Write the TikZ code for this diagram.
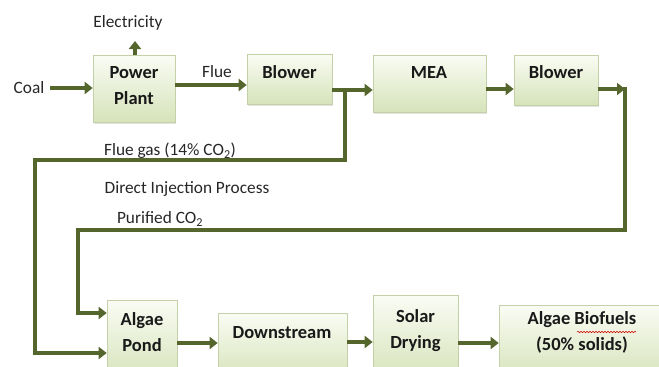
\documentclass[tikz,border=0pt]{standalone}
\usepackage{fontspec}
\setmainfont{Carlito}
\usetikzlibrary{arrows.meta,shadows,decorations.pathmorphing}
\definecolor{arrowc}{RGB}{84,102,44}
\definecolor{boxline}{RGB}{196,208,168}
\definecolor{boxtop}{RGB}{250,252,244}
\definecolor{boxbot}{RGB}{214,227,186}
\tikzset{
  box/.style={draw=boxline, line width=0.6pt, rectangle, top color=boxtop, bottom color=boxbot,
    drop shadow={shadow xshift=1.2pt, shadow yshift=-1.5pt, opacity=0.22}},
  boxtxt/.style={font=\fontsize{18.5}{26}\selectfont\bfseries, align=center, inner sep=0pt, text=black!90},
  lbl/.style={font=\fontsize{17.3}{20}\selectfont, inner sep=0pt, text=black!85},
  arr/.style={draw=arrowc, line width=3.6pt, -{Triangle[length=8pt,width=12pt]}},
  ln/.style={draw=arrowc, line width=3.6pt, line cap=rect},
}
\begin{document}
\begin{tikzpicture}[x=1pt,y=-1pt]
\useasboundingbox (0,0) rectangle (659,367);
\clip (0,0) rectangle (659,367);
% boxes
\node[box, minimum width=82pt, minimum height=67pt] (pp) at (134,88.5) {};
\node[box, minimum width=85pt, minimum height=50pt] (bl1) at (289.5,79) {};
\node[box, minimum width=113pt, minimum height=57pt] (mea) at (429.5,83.5) {};
\node[box, minimum width=84pt, minimum height=50pt] (bl2) at (556,80) {};
\node[box, minimum width=70pt, minimum height=80pt] (pond) at (142,340) {};
\node[box, minimum width=129pt, minimum height=67pt] (down) at (282.5,346.5) {};
\node[box, minimum width=85pt, minimum height=84pt] (solar) at (415.5,337) {};
\node[box, minimum width=175pt, minimum height=75pt] (fuel) at (586.5,342.5) {};
% box texts
\node[boxtxt] (tpp) at (134,86) {Power\\Plant};
\node[boxtxt] (tbl1) at (289.5,72.5) {Blower};
\node[boxtxt] (tmea) at (429,73) {MEA};
\node[boxtxt] (tbl2) at (556,72) {Blower};
\node[boxtxt] (tpond) at (142,332) {Algae\\Pond};
\node[boxtxt] (tdown) at (282,333) {Downstream};
\node[boxtxt] (tsolar) at (415.5,331) {Solar\\Drying};
\node[boxtxt] (tfuel) at (582,332.5) {Algae Biofuels\\(50\% solids)};
% labels
\node[lbl] (coal) at (29,87.5) {Coal};
\node[lbl] (elec) at (128,23) {Electricity};
\node[lbl] (flue) at (217,72) {Flue};
\node[lbl] (fgas) at (170,151) {Flue gas (14\% CO\textsubscript{2})};
\node[lbl] (dip) at (187,189) {Direct Injection Process};
\node[lbl] (pco) at (160,219) {Purified CO\textsubscript{2}};
% spell-check underline
\draw[red!80!black, line width=0.5pt, decorate, decoration={snake, amplitude=0.8pt, segment length=3pt}]
  (577,332) -- (636,332);
% coordinates
\coordinate (j1) at (345,90);
\coordinate (j2) at (345,160);
\coordinate (j3) at (35,160);
\coordinate (j4) at (35,353);
\coordinate (k1) at (625,89);
\coordinate (k2) at (625,230);
\coordinate (k3) at (78,230);
\coordinate (k4) at (78,313);
% connectors
\draw[arr] (50,88) -- (pp.west |- 0,88);
\draw[arr] (pp.north -| 135,0) -- (135,41);
\draw[arr] (pp.east |- 0,85) -- (bl1.west |- 0,85);
\draw[arr] (bl1.east |- j1) -- (mea.west |- j1);
\draw[ln] (j1) -- (j2) -- (j3) -- (j4);
\draw[arr] (j4) -- (pond.west |- j4);
\draw[arr] (mea.east |- 0,89) -- (bl2.west |- 0,89);
\draw[ln] (k1) -- (k2) -- (k3) -- (k4);
\draw[arr] (bl2.east |- k1) -- (k1);
\draw[arr] (k4) -- (pond.west |- k4);
\draw[arr] (pond.east |- 0,343) -- (down.west |- 0,343);
\draw[arr] (down.east |- 0,342) -- (solar.west |- 0,342);
\draw[arr] (solar.east |- 0,343) -- (fuel.west |- 0,343);
\end{tikzpicture}
\end{document}
